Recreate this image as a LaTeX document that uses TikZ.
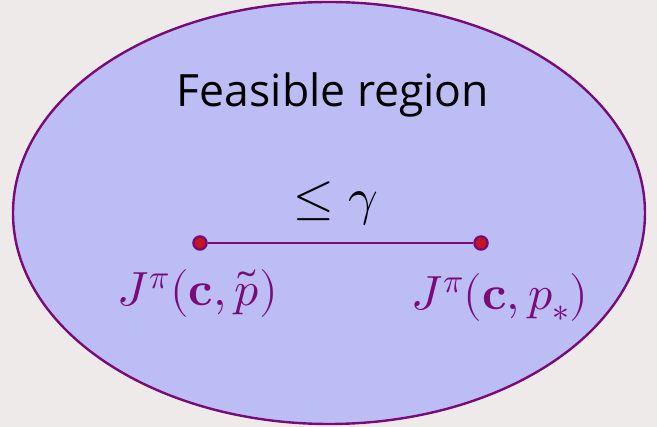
\documentclass[tikz,border=0pt]{standalone}
\usepackage{fontspec}
\setmainfont{Open Sans}
\usepackage{amsmath}
\usepackage{unicode-math}
\setmathfont{Latin Modern Math}
\definecolor{bg}{HTML}{EEEAE9}
\definecolor{regionfill}{HTML}{BDBDF5}
\definecolor{edge}{HTML}{7A0A78}
\definecolor{dotred}{HTML}{C8141E}
\tikzset{
  dotpt/.style={circle, inner sep=0pt, minimum size=13pt, fill=dotred, draw=edge, line width=2.5pt},
  mathlabel/.style={text=edge, font=\fontsize{48}{52}\selectfont},
}
\begin{document}
\begin{tikzpicture}[x=1pt,y=-1pt]
\fill[bg] (0,0) rectangle (657,427);
\useasboundingbox (0,0) rectangle (657,427);
\draw[edge, fill=regionfill, line width=2.4pt] (329,213) ellipse [x radius=316, y radius=211];
\node[font=\fontsize{44.5}{48}\selectfont, text=black] (title) at (333,95) {Feasible region};
\node[font=\fontsize{52}{56}\selectfont] (gamma) at (336,203) {$\leq\gamma$};
\node[dotpt] (a) at (200,243) {};
\node[dotpt] (b) at (481,243) {};
\draw[edge, line width=2.8pt] (a) -- (b);
\node[mathlabel] (la) at (198,294) {$J^{\pi}(\symbf{c},\tilde{p})$};
\node[mathlabel] (lb) at (500,298) {$J^{\pi}(\symbf{c},p_{*})$};
\end{tikzpicture}
\end{document}
